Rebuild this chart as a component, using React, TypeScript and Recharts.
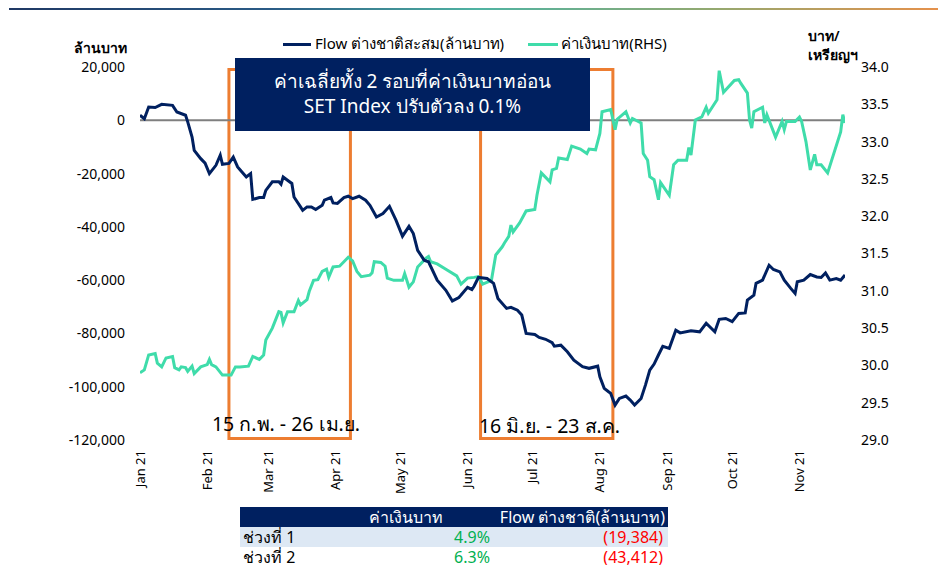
import React from "react";
import {
  LineChart,
  Line,
  XAxis,
  YAxis,
  ReferenceLine,
  ReferenceArea,
} from "recharts";

// day index counted from 1 Jan 2021
const flowDays = [
  0, 2, 4, 7, 10, 15, 17, 21, 22, 24, 25, 28, 30, 32, 35, 37, 38, 41, 43, 45, 47, 49, 51, 52, 55, 57, 58, 61, 64, 65,
  66, 68, 70, 71, 74, 75, 77, 79, 81, 84, 85, 88, 89, 91, 94, 96, 98, 101, 104, 106, 109, 112, 115, 118, 121, 124,
  126, 128, 131, 133, 137, 141, 144, 147, 148, 151, 153, 154, 156, 160, 163, 165, 169, 171, 174, 176, 178, 182, 184,
  187, 190, 191, 194, 197, 200, 204, 207, 211, 212, 214, 216, 217, 219, 221, 224, 226, 228, 231, 233, 235, 237, 239,
  241, 244, 247, 249, 254, 258, 261, 265, 267, 270, 273, 276, 279, 280, 283, 284, 287, 290, 292, 295, 297, 300, 302,
  303, 306, 309, 312, 314, 316, 318, 321, 323, 325,
];
const flowValues = [
  1900, 600, 5000, 4800, 6000, 5600, 3100, 1900, -600, -6300, -11300, -14400, -16100, -20000, -16900, -13100, -16500,
  -16200, -13800, -17500, -19400, -21300, -20000, -29700, -29000, -29000, -26300, -23100, -23100, -24000, -21300,
  -22500, -23700, -28800, -32500, -33800, -32500, -32500, -33500, -31900, -30000, -29000, -31000, -31200, -29000,
  -28500, -29400, -28500, -30000, -31900, -36300, -35000, -32300, -37500, -43500, -39800, -42500, -48800, -52500,
  -53100, -60000, -63800, -67800, -66500, -65600, -62700, -63500, -62300, -59000, -59400, -61200, -66900, -70600,
  -70200, -71300, -73100, -80000, -80400, -81500, -82200, -83500, -84800, -84400, -86900, -90000, -92500, -93100,
  -92300, -96300, -100600, -101900, -102500, -106900, -104400, -103500, -105000, -106900, -104400, -99400, -93800,
  -91500, -88100, -84800, -85600, -78800, -79800, -79000, -79400, -76200, -79400, -74700, -74400, -75600, -72500,
  -72300, -67500, -65600, -61200, -60000, -54400, -56000, -56900, -60000, -63100, -65000, -60600, -60000, -57900,
  -58800, -59000, -57300, -60000, -59400, -60000, -58100,
];

const bahtDays = [
  0, 2, 4, 7, 8, 10, 12, 15, 16, 18, 19, 21, 22, 24, 25, 28, 31, 32, 33, 35, 38, 42, 44, 46, 50, 52, 55, 57, 58, 61,
  64, 65, 66, 68, 71, 73, 74, 77, 78, 80, 82, 84, 86, 87, 89, 92, 94, 96, 98, 100, 102, 106, 107, 108, 111, 113, 114,
  117, 121, 122, 124, 126, 128, 132, 133, 134, 137, 141, 146, 148, 151, 154, 156, 158, 162, 164, 167, 168, 170, 171,
  172, 175, 178, 182, 183, 185, 189, 190, 192, 193, 197, 199, 203, 206, 207, 210, 212, 213, 217, 219, 220, 224, 226,
  227, 231, 232, 234, 235, 237, 239, 240, 244, 246, 248, 252, 253, 254, 256, 259, 261, 262, 266, 267, 269, 274, 276,
  277, 280, 281, 282, 283, 287, 288, 289, 293, 296, 297, 298, 302, 304, 305, 307, 309, 311, 312, 314, 317, 323, 324,
  325,
];
const bahtValues = [
  29.9, 29.94, 30.14, 30.16, 30.03, 29.98, 30.1, 30.12, 29.97, 29.94, 29.98, 29.97, 29.92, 29.99, 29.89, 29.98, 30.01,
  30.08, 30.01, 29.98, 29.87, 29.87, 29.98, 29.98, 29.99, 30.12, 30.08, 30.14, 30.34, 30.5, 30.72, 30.71, 30.57,
  30.72, 30.72, 30.87, 30.81, 30.88, 30.99, 31.14, 31.15, 31.26, 31.29, 31.18, 31.32, 31.33, 31.39, 31.45, 31.4,
  31.26, 31.19, 31.21, 31.24, 31.39, 31.38, 31.33, 31.17, 31.14, 31.14, 31.23, 31.05, 31.12, 31.32, 31.44, 31.46,
  31.39, 31.36, 31.29, 31.2, 31.09, 31.17, 31.18, 31.19, 31.09, 31.14, 31.48, 31.59, 31.64, 31.73, 31.88, 31.79,
  31.91, 32.07, 32.09, 32.28, 32.58, 32.46, 32.62, 32.64, 32.78, 32.76, 32.94, 32.9, 32.84, 32.9, 32.89, 33.11,
  33.4, 33.43, 33.16, 33.3, 33.4, 33.25, 33.31, 33.25, 32.84, 32.75, 32.53, 32.49, 32.22, 32.45, 32.28, 32.69,
  32.75, 32.75, 32.92, 32.82, 33.29, 33.33, 33.46, 33.38, 33.56, 33.95, 33.66, 33.82, 33.83, 33.78, 33.65, 33.29,
  33.18, 33.4, 33.46, 33.25, 33.36, 33.06, 33.27, 33.16, 33.27, 33.27, 33.33, 33.27, 33.0, 32.62, 32.83, 32.69,
  32.69, 32.58, 33.13, 33.36, 33.25,
];

const monthTicks = [0, 31, 59, 90, 120, 151, 181, 212, 243, 273, 304];
const monthLabels = ["Jan 21", "Feb 21", "Mar 21", "Apr 21", "May 21", "Jun 21", "Jul 21", "Aug 21", "Sep 21", "Oct 21", "Nov 21"];
const flowTicks = [-120000, -100000, -80000, -60000, -40000, -20000, 0, 20000];
const bahtTicks = [29, 29.5, 30, 30.5, 31, 31.5, 32, 32.5, 33, 33.5, 34];

// highlighted periods (day index)
const periods = [
  { from: 41, to: 97, label: "15 ก.พ. - 26 เม.ย." },
  { from: 157, to: 218, label: "16 มิ.ย. - 23 ส.ค." },
];

const tableRows = [
  { name: "ช่วงที่ 1", baht: "4.9%", flow: "(19,384)" },
  { name: "ช่วงที่ 2", baht: "6.3%", flow: "(43,412)" },
];

const flowData = flowDays.map((d, i) => ({ day: d, flow: flowValues[i] }));
const bahtData = bahtDays.map((d, i) => ({ day: d, baht: bahtValues[i] }));

const NAVY = "#002060";
const GREEN = "#3fdcaa";
const ORANGE = "#ed7d31";
const FONT = "'Noto Sans', sans-serif";

const MonthTick = ({ x, y, payload }: any) => {
  const idx = monthTicks.indexOf(payload.value);
  return (
    <text
      x={x}
      y={y}
      transform={`rotate(-90, ${x}, ${y})`}
      textAnchor="end"
      dy="0.35em"
      fontSize={13}
      fill="#000"
      fontFamily={FONT}
    >
      {monthLabels[idx]}
    </text>
  );
};

const cell = { padding: 0, height: 20, lineHeight: "20px", overflow: "hidden", whiteSpace: "nowrap" as const };

export default function App() {
  return (
    <div style={{ position: "relative", width: 930, height: 557, fontFamily: FONT }}>
      <div
        style={{
          position: "absolute",
          left: 1,
          top: -3,
          width: 937,
          height: 5,
          background: "linear-gradient(to right, #1f3864 0%, #2a5b86 28%, #4fb3a2 50%, #93a970 75%, #e8904a 100%)",
        }}
      />

      <LineChart width={930} height={500} margin={{ top: 59, right: 33, left: 0, bottom: 18 }}>
        <XAxis
          xAxisId="d"
          type="number"
          dataKey="day"
          domain={[0, 325]}
          ticks={monthTicks}
          tick={<MonthTick />}
          tickLine={false}
          axisLine={false}
          tickMargin={4}
          height={50}
          allowDataOverflow
        />
        <YAxis
          yAxisId="left"
          domain={[-120000, 20000]}
          ticks={flowTicks}
          tickFormatter={(v: number) => v.toLocaleString("en-US")}
          tick={{ fontSize: 14, fill: "#000", fontFamily: FONT }}
          tickLine={false}
          axisLine={false}
          tickMargin={9}
          width={132}
        />
        <YAxis
          yAxisId="right"
          orientation="right"
          domain={[29, 34]}
          ticks={bahtTicks}
          tickFormatter={(v: number) => v.toFixed(1)}
          tick={{ fontSize: 14, fill: "#000", fontFamily: FONT }}
          tickLine={false}
          axisLine={false}
          tickMargin={10}
          width={60}
        />
        <ReferenceLine xAxisId="d" yAxisId="left" y={0} stroke="#7f7f7f" strokeWidth={2} />
        <Line
          xAxisId="d"
          yAxisId="right"
          data={bahtData}
          dataKey="baht"
          type="linear"
          stroke={GREEN}
          strokeWidth={3}
          dot={false}
          isAnimationActive={false}
        />
        <Line
          xAxisId="d"
          yAxisId="left"
          data={flowData}
          dataKey="flow"
          type="linear"
          stroke={NAVY}
          strokeWidth={3}
          dot={false}
          isAnimationActive={false}
        />
        {periods.map((p) => (
          <ReferenceArea
            key={p.label}
            xAxisId="d"
            yAxisId="left"
            x1={p.from}
            x2={p.to}
            y1={19100}
            y2={-119400}
            fill="none"
            stroke={ORANGE}
            strokeWidth={3}
          />
        ))}
      </LineChart>

      {/* legend */}
      <div style={{ position: "absolute", top: 24, left: 275, display: "flex", alignItems: "center", fontSize: 15, whiteSpace: "nowrap" }}>
        <span style={{ display: "inline-block", width: 28, height: 3, background: NAVY, marginRight: 4 }} />
        <span>Flow ต่างชาติสะสม(ล้านบาท)</span>
        <span style={{ display: "inline-block", width: 30, height: 3, background: GREEN, marginLeft: 24, marginRight: 3 }} />
        <span>ค่าเงินบาท(RHS)</span>
      </div>

      {/* axis titles */}
      <div style={{ position: "absolute", left: 66, top: 29, fontSize: 14, fontWeight: 600 }}>ล้านบาท</div>
      <div style={{ position: "absolute", left: 800, top: 18, fontSize: 14, fontWeight: 600, lineHeight: "19px" }}>
        บาท/
        <br />
        เหรียญฯ
      </div>

      {/* annotation box */}
      <div
        style={{
          position: "absolute",
          left: 227,
          top: 50,
          width: 355,
          height: 73,
          background: NAVY,
          color: "#fff",
          fontSize: 19,
          textAlign: "center",
          lineHeight: "25px",
          paddingTop: 11,
          boxSizing: "border-box",
          whiteSpace: "nowrap",
        }}
      >
        ค่าเฉลี่ยทั้ง 2 รอบที่ค่าเงินบาทอ่อน
        <br />
        SET Index ปรับตัวลง 0.1%
      </div>

      {/* period labels */}
      <div style={{ position: "absolute", left: 192, top: 401, width: 172, textAlign: "center", fontSize: 19.5, whiteSpace: "nowrap" }}>
        {periods[0].label}
      </div>
      <div style={{ position: "absolute", left: 458, top: 403, width: 167, textAlign: "center", fontSize: 19.5, whiteSpace: "nowrap" }}>
        {periods[1].label}
      </div>

      {/* summary table */}
      <table
        style={{
          position: "absolute",
          left: 232,
          top: 499,
          width: 428,
          borderCollapse: "collapse",
          tableLayout: "fixed",
          fontSize: 16,
          fontFamily: FONT,
        }}
      >
        <colgroup>
          <col style={{ width: 120 }} />
          <col style={{ width: 130 }} />
          <col style={{ width: 178 }} />
        </colgroup>
        <thead>
          <tr style={{ background: NAVY, color: "#fff" }}>
            <th style={cell} />
            <th style={{ ...cell, paddingRight: 47, textAlign: "right", fontWeight: 400 }}>ค่าเงินบาท</th>
            <th style={{ ...cell, paddingRight: 3, textAlign: "right", fontWeight: 400 }}>Flow ต่างชาติ(ล้านบาท)</th>
          </tr>
        </thead>
        <tbody>
          {tableRows.map((r, i) => (
            <tr key={r.name} style={{ background: i === 0 ? "#dde8f4" : "#fff" }}>
              <td style={{ ...cell, paddingLeft: 3, color: "#000" }}>{r.name}</td>
              <td style={{ ...cell, textAlign: "right", color: "#00b050" }}>{r.baht}</td>
              <td style={{ ...cell, paddingRight: 5, textAlign: "right", color: "#ff0000" }}>{r.flow}</td>
            </tr>
          ))}
        </tbody>
      </table>
    </div>
  );
}
